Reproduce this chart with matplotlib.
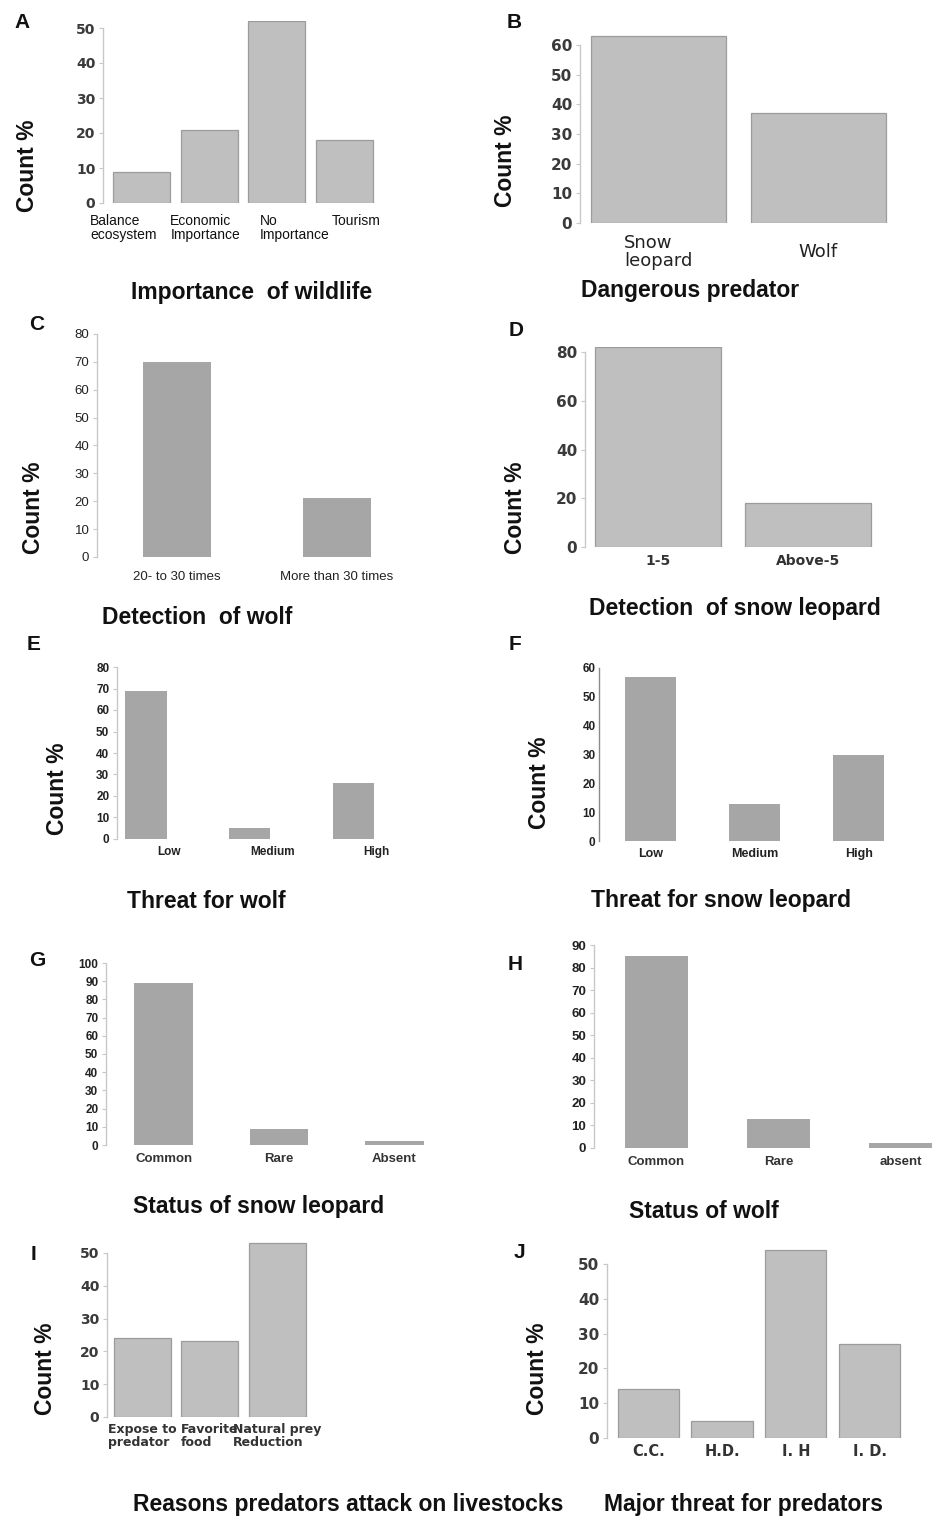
import matplotlib
matplotlib.use('Agg')
import matplotlib.pyplot as plt
import matplotlib.transforms as mtransforms
import numpy as np

plt.rcParams['font.family'] = ['Liberation Sans', 'DejaVu Sans']

# data
imp_labels = ['Balance\necosystem', 'Economic\nImportance', 'No\nImportance', 'Tourism']
imp_values = [9, 21, 52, 18]

danger_labels = ['Snow\nleopard', 'Wolf']
danger_values = [63, 37]

wolf_det_labels = ['20- to 30 times', 'More than 30 times']
wolf_det_values = [70, 21]

leo_det_labels = ['1-5', 'Above-5']
leo_det_values = [82, 18]

threat_labels = ['Low', 'Medium', 'High']
wolf_threat = [69, 5, 26]
leo_threat = [57, 13, 30]

leo_status_labels = ['Common', 'Rare', 'Absent']
leo_status = [89, 9, 2]

wolf_status_labels = ['Common', 'Rare', 'absent']
wolf_status = [85, 13, 2]

reason_labels = ['Expose to\npredator', 'Favorite\nfood', 'Natural prey\nReduction']
reason_values = [24, 23, 53]

major_labels = ['C.C.', 'H.D.', 'I. H', 'I. D.']
major_values = [14, 5, 54, 27]

W, H = 934, 1517
fig = plt.figure(figsize=(W / 100, H / 100), dpi=100)

LIGHT = '#bfbfbf'
LIGHT_EDGE = '#9c9c9c'
DARK = '#a6a6a6'

wide_num = dict(family='DejaVu Sans', weight='bold', size=10, color='#3a3a3a')
arial_num = dict(family='Liberation Sans', weight='bold', size=8, color='#222222')


def axes_px(l, t, r, b):
    return fig.add_axes([l / W, 1 - b / H, (r - l) / W, (b - t) / H])


def text_px(x, y, s, **kw):
    fig.text(x / W, 1 - y / H, s, ha='center', va='center', **kw)


def panel(box, labels, values, xlim, ylim, yticks, width, color, edge,
          num_font, cat_font, xpad, spine_color='#c8c8c8', tick_len=3,
          label_shift=0.0, cat_va='top', linespacing=1.0, shifts_px=None):
    ax = axes_px(*box)
    x = np.arange(len(values))
    if edge:
        ax.bar(x, values, width, color=color, edgecolor=edge, linewidth=0.9)
    else:
        ax.bar(x, values, width, color=color, linewidth=0)
    ax.set_xlim(*xlim)
    ax.set_ylim(*ylim)
    ax.set_yticks(yticks)
    ax.set_xticks(x + label_shift)
    ax.set_xticklabels(labels)
    for s in ['top', 'right', 'bottom']:
        ax.spines[s].set_visible(False)
    ax.spines['left'].set_color(spine_color)
    ax.spines['left'].set_linewidth(1.0)
    ax.spines['left'].set_bounds(0, yticks[-1])
    ax.tick_params(axis='x', length=0, pad=xpad)
    ax.tick_params(axis='y', length=tick_len, width=0.8, color=spine_color, pad=2.5)
    for lab in ax.get_yticklabels():
        lab.set(**num_font)
    for i, lab in enumerate(ax.get_xticklabels()):
        lab.set(**cat_font)
        lab.set_va(cat_va)
        lab.set_linespacing(linespacing)
        lab.set_multialignment('left')
        if shifts_px is not None and shifts_px[i]:
            off = mtransforms.ScaledTranslation(shifts_px[i] / 100, 0, fig.dpi_scale_trans)
            lab.set_transform(lab.get_transform() + off)
    ax.patch.set_visible(False)
    return ax


# A
panel((103, 21, 375, 203), imp_labels, imp_values, (-0.57, 3.45), (0, 52),
      range(0, 51, 10), 0.84, LIGHT, LIGHT_EDGE, wide_num,
      dict(family='Liberation Sans', size=10, color='#111111'), 8, linespacing=0.95,
      shifts_px=[-18, -4, 18, 12])
# B
panel((580, 34.6, 890, 223), danger_labels, danger_values, (-0.49, 1.447), (0, 63.5),
      range(0, 61, 10), 0.84, LIGHT, LIGHT_EDGE, dict(wide_num, size=11),
      dict(family='DejaVu Sans', size=13, color='#222222'), 21, cat_va='center',
      linespacing=1.0)
# C
panel((97, 334, 417, 557), wolf_det_labels, wolf_det_values, (-0.5, 1.5), (0, 80),
      range(0, 81, 10), 0.43, DARK, None,
      dict(family='Liberation Sans', size=9.5, color='#222222'),
      dict(family='Liberation Sans', size=9.5, color='#222222'), 10)
# D
panel((585, 347, 875, 547), leo_det_labels, leo_det_values, (-0.49, 1.448), (0, 82.1),
      range(0, 81, 20), 0.84, LIGHT, LIGHT_EDGE, dict(wide_num, size=11),
      dict(family='DejaVu Sans', weight='bold', size=10, color='#333333'), 5)
# E
panel((117, 667, 405, 839), threat_labels, wolf_threat, (-0.28, 2.497), (0, 80),
      range(0, 81, 10), 0.40, DARK, None, dict(arial_num, size=8.5),
      dict(family='Liberation Sans', weight='bold', size=8.5, color='#222222'), 5,
      label_shift=0.22)
# F
panel((599, 668, 911, 841), threat_labels, leo_threat, (-0.49, 2.50), (0, 60),
      range(0, 61, 10), 0.49, DARK, None, dict(arial_num, size=8.5),
      dict(family='Liberation Sans', weight='bold', size=9, color='#222222'), 5,
      spine_color='#8a8a8a', tick_len=0)
# G
panel((106, 963, 452, 1145), leo_status_labels, leo_status, (-0.5, 2.5), (0, 100),
      range(0, 101, 10), 0.51, DARK, None, dict(arial_num, size=8.5),
      dict(family='Liberation Sans', weight='bold', size=9.5, color='#333333'), 6)
# H
panel((594, 945, 934, 1148), wolf_status_labels, wolf_status, (-0.51, 2.27), (0, 90),
      range(0, 91, 10), 0.515, DARK, None, dict(arial_num, size=9.5),
      dict(family='Liberation Sans', weight='bold', size=9.5, color='#333333'), 6)
# I
panel((107, 1242, 308, 1417), reason_labels, reason_values, (-0.53, 2.46), (0, 53.3),
      range(0, 51, 10), 0.85, LIGHT, LIGHT_EDGE, wide_num,
      dict(family='DejaVu Sans', weight='bold', size=9, color='#333333'), 4,
      linespacing=1.05)
# J
panel((607, 1249, 902, 1438), major_labels, major_values, (-0.56, 3.44), (0, 54.3),
      range(0, 51, 10), 0.83, LIGHT, LIGHT_EDGE, dict(wide_num, size=11),
      dict(family='DejaVu Sans', weight='bold', size=10.5, color='#333333'), 4)

# y labels
ylab = dict(rotation=90, fontsize=16.5, fontweight='bold', color='#111111')
for x, y in [(28, 166), (506, 161), (33, 508), (515, 508), (57, 789),
             (539, 783), (45, 1369), (537, 1369)]:
    text_px(x, y, 'Count %', **ylab)

# panel titles
titles = [
    (252, 293, 'Importance  of wildlife'),
    (690, 290, 'Dangerous predator'),
    (197, 618, 'Detection  of wolf'),
    (735, 608, 'Detection  of snow leopard'),
    (206, 902, 'Threat for wolf'),
    (721, 901, 'Threat for snow leopard'),
    (259, 1206, 'Status of snow leopard'),
    (704, 1211, 'Status of wolf'),
    (348, 1504, 'Reasons predators attack on livestocks'),
    (744, 1504, 'Major threat for predators'),
]
for x, y, s in titles:
    text_px(x, y, s, fontsize=16.5, fontweight='bold', color='#111111')

# panel letters
letters = [(22, 22, 'A'), (514, 22, 'B'), (37, 325, 'C'), (516, 331, 'D'),
           (34, 644, 'E'), (515, 644, 'F'), (37, 961, 'G'), (515, 965, 'H'),
           (34, 1254, 'I'), (519, 1253, 'J')]
for x, y, s in letters:
    text_px(x, y, s, fontsize=15, fontweight='bold', color='#111111')

fig.savefig('out.png', dpi=100, facecolor='white')
